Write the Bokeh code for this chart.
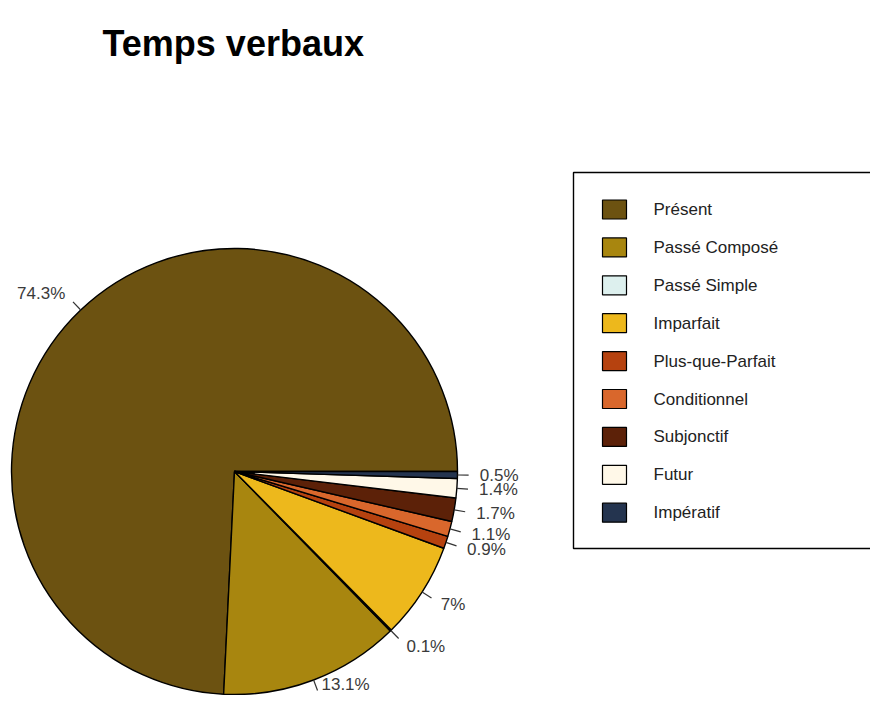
import numpy as np
from bokeh.plotting import figure
from bokeh.models import Range1d, ColumnDataSource
from bokeh.core.properties import value
from bokeh.embed import file_html
from bokeh.resources import INLINE

# ---- data ----
categories = ["Présent", "Passé Composé", "Passé Simple", "Imparfait",
              "Plus-que-Parfait", "Conditionnel", "Subjonctif", "Futur", "Impératif"]
percentages = [74.3, 13.1, 0.1, 7.0, 0.9, 1.1, 1.7, 1.4, 0.5]
labels = ["74.3%", "13.1%", "0.1%", "7%", "0.9%", "1.1%", "1.7%", "1.4%", "0.5%"]
colors = ["#6C5211", "#A8860F", "#DDF0EE", "#EDB81C", "#B6420F",
          "#D9672C", "#5C2108", "#FFF8E8", "#24344F"]
title_text = "Temps verbaux"

# ---- layout (picture pixel coordinates, y negated) ----
W, H = 870, 695
cx, cy, R = 234, -471, 223

p = figure(width=W, height=H, output_backend="svg", toolbar_location=None,
           x_range=Range1d(0, W), y_range=Range1d(-H, 0),
           x_axis_type=None, y_axis_type=None, min_border=0)
p.grid.visible = False
p.outline_line_color = None
p.background_fill_color = "white"

vals = np.array(percentages, dtype=float)
frac = vals / vals.sum()
ends = np.cumsum(frac) * 2 * np.pi
starts = np.concatenate([[0.0], ends[:-1]])
mids = (starts + ends) / 2

src = ColumnDataSource(dict(start=starts, end=ends, color=colors))
p.wedge(x=cx, y=cy, radius=R, start_angle="start", end_angle="end",
        fill_color="color", line_color="black", line_width=1.4, source=src)

# ticks and labels
cosm, sinm = np.cos(mids), np.sin(mids)
p.segment(x0=cx + R * cosm, y0=cy + R * sinm,
          x1=cx + 1.05 * R * cosm, y1=cy + 1.05 * R * sinm,
          line_color="#333333", line_width=1.2)
lx = cx + 1.1 * R * cosm
ly = np.maximum(cy + 1.1 * R * sinm, -H + 11)  # keep the lowest label inside the canvas
align = ["left" if c >= 0 else "right" for c in cosm]
lsrc = ColumnDataSource(dict(x=lx, y=ly, t=labels, a=align))
p.text(x="x", y="y", text="t", text_align="a", text_baseline="middle",
       text_font=value("Liberation Sans"), text_font_size="17px",
       text_color="#3a3a3a", source=lsrc)

# title
p.text(x=[102], y=[-43], text=[title_text], text_baseline="alphabetic",
       text_font=value("Liberation Sans"), text_font_style="bold",
       text_font_size="36px", text_color="black")

# legend box
p.quad(left=[573], right=[900], top=[-172], bottom=[-548],
       fill_color="white", line_color="black", line_width=1.4)
n = len(categories)
row_y = [-(209 + i * 37.9) for i in range(n)]
p.rect(x=[614] * n, y=row_y, width=24, height=19, fill_color=colors,
       line_color="black", line_width=1.2)
p.text(x=[653] * n, y=row_y, text=categories, text_baseline="middle",
       text_font=value("Liberation Sans"), text_font_size="17px",
       text_color="#222222")

open("out.html", "w").write(file_html(p, INLINE))
